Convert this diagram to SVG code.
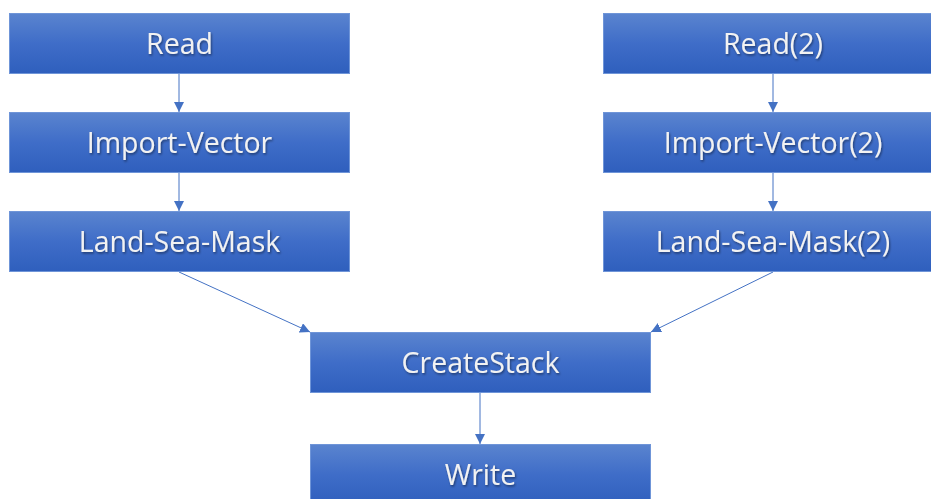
<svg xmlns="http://www.w3.org/2000/svg" width="931" height="499" viewBox="0 0 931 499">
  <defs>
    <linearGradient id="boxFill" x1="0" y1="0" x2="0" y2="1">
      <stop offset="0" stop-color="#5a84cf"/>
      <stop offset="0.5" stop-color="#3f6dc8"/>
      <stop offset="1" stop-color="#2f5fbd"/>
    </linearGradient>
    <filter id="textShadow" x="-10%" y="-30%" width="120%" height="160%">
      <feDropShadow dx="1" dy="1.5" stdDeviation="1" flood-color="#000" flood-opacity="0.45"/>
    </filter>
    <marker id="arrow" viewBox="0 0 10 10" refX="10" refY="5" markerWidth="10" markerHeight="10" markerUnits="userSpaceOnUse" orient="auto">
      <path d="M0,0 L10,5 L0,10 Z" fill="#4472c4"/>
    </marker>
  </defs>
  <style>
    .box { fill: url(#boxFill); stroke: #6f95d8; stroke-width: 1; }
    .label { font-family: "Open Sans", "Noto Sans", "Liberation Sans", sans-serif; font-size: 28.5px; fill: #f2f2f2; text-anchor: middle; filter: url(#textShadow); }
    .edge { stroke: #4472c4; stroke-width: 1; fill: none; marker-end: url(#arrow); }
  </style>
  <rect width="931" height="499" fill="#ffffff"/>

  <g id="connectors">
    <line class="edge" x1="179" y1="74" x2="179" y2="112"/>
    <line class="edge" x1="179" y1="173" x2="179" y2="211"/>
    <line class="edge" x1="773" y1="74" x2="773" y2="112"/>
    <line class="edge" x1="773" y1="173" x2="773" y2="211"/>
    <line class="edge" x1="179" y1="272" x2="310" y2="332"/>
    <line class="edge" x1="773" y1="272" x2="651" y2="332"/>
    <line class="edge" x1="480" y1="393" x2="480" y2="444"/>
  </g>

  <g id="read">
    <rect class="box" x="9.5" y="13.5" width="340" height="60"/>
    <text class="label" x="179.5" y="54">Read</text>
  </g>
  <g id="import-vector">
    <rect class="box" x="9.5" y="112.5" width="340" height="60"/>
    <text class="label" x="179.5" y="153">Import-Vector</text>
  </g>
  <g id="land-sea-mask">
    <rect class="box" x="9.5" y="211.5" width="340" height="60"/>
    <text class="label" x="179.5" y="252">Land-Sea-Mask</text>
  </g>
  <g id="read-2">
    <rect class="box" x="603.5" y="13.5" width="340" height="60"/>
    <text class="label" x="773" y="54">Read(2)</text>
  </g>
  <g id="import-vector-2">
    <rect class="box" x="603.5" y="112.5" width="340" height="60"/>
    <text class="label" x="773" y="153">Import-Vector(2)</text>
  </g>
  <g id="land-sea-mask-2">
    <rect class="box" x="603.5" y="211.5" width="340" height="60"/>
    <text class="label" x="773" y="252">Land-Sea-Mask(2)</text>
  </g>
  <g id="createstack">
    <rect class="box" x="310.5" y="332.5" width="340" height="60"/>
    <text class="label" x="480.5" y="373">CreateStack</text>
  </g>
  <g id="write">
    <rect class="box" x="310.5" y="444.5" width="340" height="60"/>
    <text class="label" x="480.5" y="485">Write</text>
  </g>
</svg>
